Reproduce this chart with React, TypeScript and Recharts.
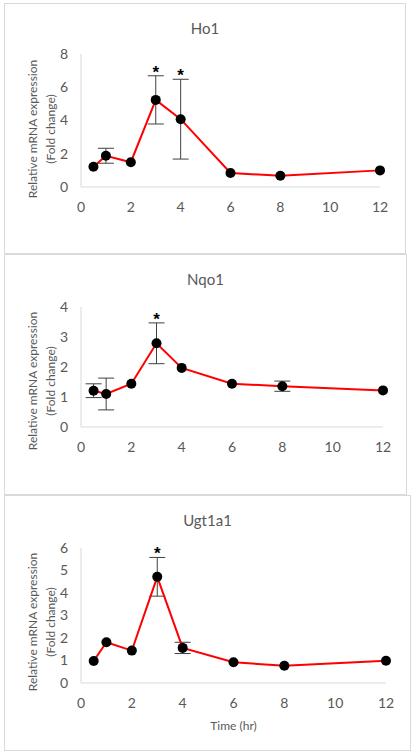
import { LineChart, Line, XAxis, YAxis, ErrorBar, ReferenceDot } from "recharts";

// time points (hr)
const hours = [0.5, 1, 2, 3, 4, 6, 8, 12];
const xTicks = [0, 2, 4, 6, 8, 10, 12];

// null = error bar too small to see behind the marker
const ho1Mean = [1.22, 1.88, 1.49, 5.24, 4.08, 0.84, 0.68, 1.0];
const ho1Err = [null, 0.45, null, 1.45, 2.4, null, null, null];
const ho1Stars = [3, 4];
const ho1Ticks = [0, 2, 4, 6, 8];

const nqo1Mean = [1.21, 1.1, 1.44, 2.79, 1.97, 1.44, 1.36, 1.22];
const nqo1Err = [0.23, 0.53, null, 0.68, null, null, 0.17, null];
const nqo1Stars = [3];
const nqo1Ticks = [0, 1, 2, 3, 4];

const ugtMean = [0.98, 1.81, 1.44, 4.72, 1.56, 0.92, 0.77, 0.99];
const ugtErr = [null, null, null, 0.86, 0.25, null, null, null];
const ugtStars = [3];
const ugtTicks = [0, 1, 2, 3, 4, 5, 6];

const FONT = "Lato, 'Open Sans', sans-serif";
const TXT = "#595959";
const AXIS = "#d9d9d9";

interface PanelProps {
  left: number;
  top: number;
  width: number;
  height: number;
  plotTop: number;
  plotRight: number;
  plotBottom: number;
  labelY: number;
  title: string;
  mean: number[];
  err: (number | null)[];
  stars: number[];
  yTicks: number[];
  xLabel?: string;
}

function Panel(p: PanelProps) {
  const data = hours.map((h, i) => ({ h, v: p.mean[i], e: p.err[i] }));
  const yMax = p.yTicks[p.yTicks.length - 1];
  const xAxisH = 30;
  const plotLeft = 81;
  const margin = {
    top: p.plotTop - p.top,
    right: p.left + p.width - p.plotRight,
    bottom: p.top + p.height - p.plotBottom - xAxisH,
    left: 0,
  };

  return (
    <>
      <div
        style={{
          position: "absolute",
          left: p.left,
          top: p.top,
          width: p.width,
          height: p.height,
          boxSizing: "border-box",
          border: `1px solid ${AXIS}`,
        }}
      />
      <div
        style={{
          position: "absolute",
          left: p.left,
          top: p.top + 16,
          width: p.width,
          textAlign: "center",
          fontFamily: FONT,
          fontSize: 15,
          lineHeight: "18px",
          color: TXT,
        }}
      >
        {p.title}
      </div>
      <div
        style={{
          position: "absolute",
          left: 42 - 100,
          top: p.labelY - 18,
          width: 200,
          height: 36,
          transform: "rotate(-90deg)",
          textAlign: "center",
          fontFamily: FONT,
          fontSize: 12,
          lineHeight: "18px",
          color: TXT,
          whiteSpace: "nowrap",
        }}
      >
        Relative mRNA expression
        <br />
        (Fold change)
      </div>
      {p.xLabel && (
        <div
          style={{
            position: "absolute",
            left: plotLeft,
            top: p.plotBottom + 35,
            width: p.plotRight - plotLeft,
            textAlign: "center",
            fontFamily: FONT,
            fontSize: 12,
            lineHeight: "16px",
            color: TXT,
          }}
        >
          {p.xLabel}
        </div>
      )}
      <div style={{ position: "absolute", left: p.left, top: p.top }}>
        <LineChart width={p.width} height={p.height} data={data} margin={margin}>
          <XAxis
            dataKey="h"
            type="number"
            domain={[0, 12]}
            ticks={xTicks}
            height={xAxisH}
            tickLine={false}
            tickSize={0}
            tickMargin={15}
            stroke={AXIS}
            tick={{ fill: TXT, fontSize: 14, fontFamily: FONT }}
          />
          <YAxis
            type="number"
            domain={[0, yMax]}
            ticks={p.yTicks}
            width={plotLeft - p.left}
            tickLine={false}
            tickSize={0}
            tickMargin={13}
            stroke={AXIS}
            tick={{ fill: TXT, fontSize: 14, fontFamily: FONT }}
          />
          <Line dataKey="v" stroke="#ff0000" strokeWidth={2} dot={false} isAnimationActive={false}>
            <ErrorBar dataKey="e" width={8} stroke="#404040" strokeWidth={1} isAnimationActive={false} />
          </Line>
          <Line
            dataKey="v"
            stroke="none"
            dot={{ r: 5, fill: "#000", stroke: "#000", strokeWidth: 0 }}
            activeDot={false}
            isAnimationActive={false}
          />
          {p.stars.map((s) => {
            const i = hours.indexOf(s);
            return (
              <ReferenceDot
                key={s}
                x={s}
                y={p.mean[i] + (p.err[i] ?? 0)}
                r={0}
                ifOverflow="visible"
                shape={(sp: any) => (
                  <text
                    x={sp.cx}
                    y={sp.cy + 2}
                    textAnchor="middle"
                    fontFamily="'Liberation Sans', Arial, sans-serif"
                    fontWeight="bold"
                    fontSize={17}
                    fill="#000"
                  >
                    *
                  </text>
                )}
              />
            );
          })}
        </LineChart>
      </div>
    </>
  );
}

export default function App() {
  return (
    <div style={{ position: "absolute", left: 0, top: 0, width: 414, height: 755, background: "#fff" }}>
      <Panel
        left={4}
        top={3}
        width={402}
        height={251}
        plotTop={54}
        plotRight={380}
        plotBottom={187}
        labelY={129}
        title="Ho1"
        mean={ho1Mean}
        err={ho1Err}
        stars={ho1Stars}
        yTicks={ho1Ticks}
      />
      <Panel
        left={4}
        top={254}
        width={403}
        height={241}
        plotTop={307}
        plotRight={383}
        plotBottom={427}
        labelY={381}
        title="Nqo1"
        mean={nqo1Mean}
        err={nqo1Err}
        stars={nqo1Stars}
        yTicks={nqo1Ticks}
      />
      <Panel
        left={4}
        top={495}
        width={407}
        height={256}
        plotTop={548}
        plotRight={386}
        plotBottom={683}
        labelY={622}
        title="Ugt1a1"
        mean={ugtMean}
        err={ugtErr}
        stars={ugtStars}
        yTicks={ugtTicks}
        xLabel="Time (hr)"
      />
    </div>
  );
}
